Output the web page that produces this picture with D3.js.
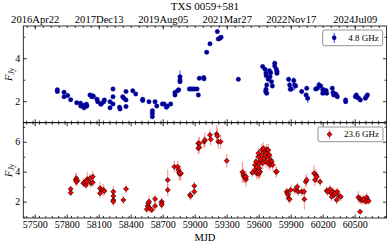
<!DOCTYPE html>
<html><head><meta charset="utf-8">
<script src="https://cdn.jsdelivr.net/npm/d3@7"></script>
<style>body{margin:0;background:#fff}svg{display:block}</style>
</head><body><svg id="c" width="389" height="246"></svg>
<script>
// ---------- DATA ----------
const mjd48 = [57712,57712,57775,57775,57809,57837,57894,57929,57931,57962,57962,57985,57989,57980,58018,58034,58050,58044,58084,58090,58119,58125,58147,58153,58206,58206,58234,58234,58234,58295,58300,58325,58337,58356,58356,58356,58419,58447,58512,58512,58571,58603,58603,58603,58628,58644,58696,58713,58735,58744,58775,58815,58815,58840,58850,58862,58862,58862,58950,58965,58980,59000,59022,59034,59043,59087,59084,59112,59143,59212,59221,59237,59247,59409,59637,59659,59668,59671,59675,59668,59665,59675,59690,59700,59706,59712,59720,59728,59750,59750,59765,59771,59771,59880,59890,59896,59906,59928,59937,59946,60003,60044,60050,60059,60134,60150,60165,60181,60200,60200,60209,60215,60231,60237,60290,60297,60303,60319,60328,60337,60415,60415,60506,60515,60525,60537,60553,60600,60609,60619];
const flux48 = [2.53,2.45,2.42,2.21,2.26,2.07,1.93,1.91,1.78,1.81,1.69,1.86,1.78,1.77,2.29,2.21,2.22,2.25,2.09,1.98,1.86,1.88,1.98,2.06,1.98,1.69,2.57,2.21,1.87,1.72,1.64,2.21,2.14,2.45,2.06,1.75,2.49,2.34,2.09,2.03,1.98,1.56,1.44,1.28,1.98,1.78,1.87,1.87,1.72,1.78,1.87,2.29,2.40,2.49,2.53,2.99,3.14,2.91,2.57,2.57,2.57,2.57,2.57,2.29,3.07,3.04,3.10,4.28,4.67,5.24,4.90,4.93,4.98,3.02,3.61,3.49,3.30,3.18,2.76,2.56,2.45,2.37,3.02,3.42,3.14,3.33,2.91,2.71,3.77,3.64,3.49,3.38,3.30,3.02,2.76,2.56,2.57,2.96,2.76,2.71,2.45,2.29,2.60,2.14,2.57,2.60,2.76,2.71,2.53,2.37,2.53,2.40,2.50,2.37,2.60,2.40,2.29,2.34,2.29,2.21,2.06,1.98,2.21,2.29,2.18,2.14,2.06,2.14,2.21,2.29];
const err48 = [0.06,0.06,0.05,0.05,0.05,0.05,0.05,0.05,0.05,0.06,0.06,0.05,0.05,0.05,0.06,0.05,0.06,0.05,0.05,0.05,0.05,0.05,0.05,0.05,0.05,0.05,0.08,0.06,0.05,0.05,0.05,0.06,0.05,0.06,0.05,0.05,0.05,0.05,0.05,0.05,0.05,0.06,0.06,0.06,0.05,0.06,0.05,0.05,0.05,0.05,0.05,0.06,0.06,0.05,0.05,0.12,0.3,0.1,0.05,0.05,0.05,0.05,0.05,0.05,0.06,0.05,0.05,0.05,0.05,0.05,0.05,0.05,0.06,0.05,0.06,0.06,0.06,0.06,0.08,0.08,0.06,0.06,0.06,0.06,0.06,0.06,0.06,0.06,0.08,0.08,0.06,0.06,0.06,0.1,0.3,0.1,0.08,0.15,0.25,0.08,0.05,0.06,0.08,0.22,0.06,0.06,0.15,0.06,0.06,0.06,0.05,0.05,0.05,0.05,0.06,0.06,0.06,0.05,0.05,0.05,0.06,0.05,0.05,0.06,0.05,0.05,0.05,0.05,0.05,0.05];

const mjd236 = [57837,57837,57884,57890,57900,57890,57956,57965,57980,57993,57987,58018,58027,58044,58044,58112,58112,58128,58143,58153,58237,58237,58237,58237,58331,58356,58550,58559,58565,58572,58581,58597,58628,58628,58690,58690,58690,58747,58747,58809,58840,58846,58853,58862,58871,58956,58962,58996,58996,59034,59034,59043,59043,59087,59096,59143,59150,59206,59212,59221,59243,59300,59447,59456,59462,59471,59481,59481,59540,
59565,59565,59575,59581,59587,59597,59597,59606,59606,59612,59619,59628,59628,59637,59643,59650,59659,59668,59668,59675,59681,59690,59690,59700,59706,59712,59722,59731,59580,59600,59610,59762,
59769,59862,59868,59875,59881,59890,59900,59940,59962,59971,60003,60025,60028,60040,60050,60119,60137,60128,60144,60175,60237,60247,60269,60278,60284,60294,60306,60315,60331,60337,60353,60369,60534,60550,60559,60575,60587,60603,60612,60622,60631,60550];
const flux236 = [2.85,2.60,3.45,3.56,3.40,3.33,3.23,3.29,3.11,3.49,3.33,3.56,3.23,3.67,3.29,2.89,2.56,2.78,2.78,2.71,2.67,2.38,2.11,2.00,2.11,2.85,1.49,1.71,1.89,2.00,1.56,1.45,2.18,1.71,2.00,1.89,1.78,3.45,2.78,4.33,4.33,4.11,3.93,3.85,3.89,2.45,2.38,3.05,2.67,5.89,5.56,5.89,5.63,6.00,6.11,6.45,6.16,6.51,6.38,6.00,6.00,4.73,3.96,3.78,3.67,3.63,3.49,3.67,3.93,
4.45,4.11,4.67,4.33,4.00,5.00,5.23,4.23,4.56,4.00,4.78,5.45,5.11,4.56,5.56,4.89,5.33,5.23,4.67,5.49,5.00,5.45,4.56,5.11,4.45,4.78,4.67,4.45,3.90,3.85,4.00,4.00,
4.00,2.67,2.56,2.45,2.22,2.16,2.78,2.78,3.00,2.67,2.67,2.67,2.16,3.33,3.45,3.89,3.78,3.45,3.67,3.33,2.73,2.67,2.83,2.56,2.33,2.67,2.45,2.56,2.11,2.67,2.38,2.33,2.29,2.18,2.11,2.11,2.18,2.00,2.29,2.11,2.04,1.33];
const err236 = [0.2,0.2,0.4,0.4,0.3,0.3,0.3,0.3,0.3,0.5,0.4,0.3,0.3,0.4,0.3,0.4,0.3,0.3,0.4,0.3,0.4,0.3,0.3,0.3,0.3,0.3,0.3,0.3,0.3,0.4,0.3,0.2,0.3,0.3,0.3,0.3,0.3,0.7,0.4,0.4,0.4,0.4,0.5,0.4,0.5,0.3,0.3,0.3,0.3,0.4,0.4,0.45,0.4,0.4,0.5,0.4,0.4,0.6,0.5,0.5,0.5,0.45,0.7,0.5,0.4,0.4,0.5,0.4,0.3,
0.4,0.4,0.4,0.4,0.4,0.4,0.4,0.4,0.4,0.4,0.4,0.4,0.4,0.4,0.4,0.4,0.4,0.4,0.4,0.4,0.4,0.4,0.4,0.4,0.4,0.4,0.4,0.4,0.4,0.4,0.4,0.4,
0.3,0.3,0.3,0.3,0.3,0.3,0.3,0.3,0.3,0.3,0.3,0.3,0.7,0.4,0.4,0.55,0.4,0.4,0.4,0.3,0.3,0.3,0.3,0.3,0.3,0.3,0.3,0.3,0.3,0.3,0.3,0.3,0.4,0.3,0.3,0.3,0.3,0.2,0.3,0.3,0.2,0.1];

const dateTickMJD = [57500,58100,58700,59300,59900,60500];
const dateTickLabels = ["2016Apr22","2017Dec13","2019Aug05","2021Mar27","2022Nov17","2024Jul09"];
const mjdTicks = [57500,57800,58100,58400,58700,59000,59300,59600,59900,60200,60500];
const topYTicks = [2,4];
const botYTicks = [2,4,6];
const title = "TXS 0059+581";
const legend48 = "4.8 GHz";
const legend236 = "23.6 GHz";

// ---------- LAYOUT ----------
const svg = d3.select("#c");
const FONT = "Liberation Serif, Times New Roman, serif";
const L = 23.3, R = 386.5, T1 = 26, B1 = 122.7, T2 = 122.7, B2 = 218;
const x = d3.scaleLinear().domain([57393, 60798]).range([L, R]);
const y1 = d3.scaleLinear().domain([1.0, 5.5]).range([B1, T1]);
const y2 = d3.scaleLinear().domain([0.91, 7.27]).range([B2, T2]);
const range = (a,b,s)=>d3.range(a,b+1e-9,s);

function styleAxis(g, fs){
  g.select(".domain").remove();
  g.selectAll("line").attr("stroke","#000").attr("stroke-width",0.8);
  g.selectAll("text").attr("font-family",FONT).attr("font-size",fs||10).attr("fill","#000");
}
function addAxis(axis, tx, ty, fs){
  const g = svg.append("g").attr("transform",`translate(${tx},${ty})`).call(axis);
  styleAxis(g, fs); return g;
}
const MAJ = 3.5, MIN = 2;

function panel(y, yT, yTop, yBot, xMajorBottom, xMinorStep, topMajor, topMinor, showBottomLabels, showTopLabels){
  const yMinor = range(1,7,2).filter(v=>v>y.domain()[0]&&v<y.domain()[1]);
  addAxis(d3.axisLeft(y).tickValues(yT).tickSize(-MAJ).tickPadding(3).tickFormat(d3.format("d")), L, 0);
  addAxis(d3.axisLeft(y).tickValues(yMinor).tickSize(-MIN).tickFormat(""), L, 0);
  addAxis(d3.axisRight(y).tickValues(yT).tickSize(-MAJ).tickFormat(""), R, 0);
  addAxis(d3.axisRight(y).tickValues(yMinor).tickSize(-MIN).tickFormat(""), R, 0);
  const bx = d3.axisBottom(x).tickValues(xMajorBottom).tickSize(-MAJ).tickPadding(3);
  if(!showBottomLabels) bx.tickFormat(""); else bx.tickFormat(d3.format("d"));
  addAxis(bx, 0, yBot);
  addAxis(d3.axisBottom(x).tickValues(range(57420,60780,xMinorStep)).tickSize(-MIN).tickFormat(""), 0, yBot);
  const tx = d3.axisTop(x).tickValues(topMajor).tickSize(-MAJ).tickPadding(3);
  if(showTopLabels) tx.tickFormat((d,i)=>dateTickLabels[i]); else tx.tickFormat("");
  addAxis(tx, 0, yTop, 10.6);
  addAxis(d3.axisTop(x).tickValues(topMinor).tickSize(-MIN).tickFormat(""), 0, yTop);
  svg.append("rect").attr("x",L).attr("y",yTop).attr("width",R-L).attr("height",yBot-yTop)
     .attr("fill","none").attr("stroke","#000").attr("stroke-width",0.8);
}

panel(y1, topYTicks, T1, B1, range(57500,60500,600), 60, dateTickMJD, range(57425,60775,75), false, true);
panel(y2, botYTicks, T2, B2, mjdTicks, 60, mjdTicks, range(57420,60780,60), true, false);

// ---------- MARKS ----------
const topData = mjd48.map((m,i)=>({m, f:flux48[i], e:err48[i]}));
const botData = mjd236.map((m,i)=>({m, f:flux236[i], e:err236[i]}));
const defs = svg.append("defs");
defs.append("clipPath").attr("id","cp1").append("rect").attr("x",L).attr("y",T1).attr("width",R-L).attr("height",B1-T1);
defs.append("clipPath").attr("id","cp2").append("rect").attr("x",L).attr("y",T2).attr("width",R-L).attr("height",B2-T2);

const g1 = svg.append("g").attr("clip-path","url(#cp1)");
g1.selectAll("line.e").data(topData).join("line").attr("class","e")
  .attr("x1",d=>x(d.m)).attr("x2",d=>x(d.m)).attr("y1",d=>y1(d.f-d.e)).attr("y2",d=>y1(d.f+d.e))
  .attr("stroke","#2020ff").attr("stroke-width",1).attr("stroke-opacity",0.8);
g1.selectAll("circle").data(topData).join("circle")
  .attr("cx",d=>x(d.m)).attr("cy",d=>y1(d.f)).attr("r",2.25)
  .attr("fill","#00008b").attr("stroke","#1010c0").attr("stroke-width",0.4);

const g2 = svg.append("g").attr("clip-path","url(#cp2)");
g2.selectAll("line.e").data(botData).join("line").attr("class","e")
  .attr("x1",d=>x(d.m)).attr("x2",d=>x(d.m)).attr("y1",d=>y2(d.f-d.e)).attr("y2",d=>y2(d.f+d.e))
  .attr("stroke","#ff4040").attr("stroke-width",1.2).attr("stroke-opacity",0.5);
const dia = d3.symbol(d3.symbolSquare, 13);
g2.selectAll("path.m").data(botData).join("path").attr("class","m")
  .attr("d",dia).attr("transform",d=>`translate(${x(d.m)},${y2(d.f)}) rotate(45)`)
  .attr("fill","#ff0000").attr("stroke","#000").attr("stroke-width",0.6);

// ---------- TEXT ----------
svg.append("text").attr("x",(L+R)/2).attr("y",10).attr("text-anchor","middle")
  .attr("font-family",FONT).attr("font-size",11).text(title);
svg.append("text").attr("x",(L+R)/2).attr("y",241).attr("text-anchor","middle")
  .attr("font-family",FONT).attr("font-size",10.5).text("MJD");
function ylab(cy){
  const t = svg.append("text").attr("transform",`translate(12,${cy}) rotate(-90)`).attr("text-anchor","middle")
    .attr("font-family",FONT).attr("font-size",10.5);
  t.append("tspan").attr("font-style","italic").text("F");
  t.append("tspan").attr("font-style","italic").attr("font-size",7.5).attr("dy",2).text("Jy");
}
ylab((T1+B1)/2); ylab((T2+B2)/2);

// ---------- LEGENDS ----------
function legend(x0,y0,w,h,label,kind){
  svg.append("rect").attr("x",x0).attr("y",y0).attr("width",w).attr("height",h).attr("rx",2)
    .attr("fill","#fff").attr("stroke","#777").attr("stroke-width",0.8);
  const mx = x0+11.5, my = y0+h/2;
  if(kind==="c"){
    svg.append("line").attr("x1",mx).attr("x2",mx).attr("y1",my-5).attr("y2",my+5).attr("stroke","#2020ff").attr("stroke-width",1);
    svg.append("circle").attr("cx",mx).attr("cy",my).attr("r",2.25).attr("fill","#00008b");
  } else {
    svg.append("line").attr("x1",mx).attr("x2",mx).attr("y1",my-5).attr("y2",my+5).attr("stroke","#ff4040").attr("stroke-width",1.2).attr("stroke-opacity",0.6);
    svg.append("path").attr("d",dia).attr("transform",`translate(${mx},${my}) rotate(45)`).attr("fill","#f00").attr("stroke","#000").attr("stroke-width",0.6);
  }
  svg.append("text").attr("x",x0+w-4).attr("y",my+3).attr("text-anchor","end")
    .attr("font-family",FONT).attr("font-size",9).text(label);
}
legend(322.7,30,60,15.7,legend48,"c");
legend(318,127,65,14.7,legend236,"d");
</script></body></html>
